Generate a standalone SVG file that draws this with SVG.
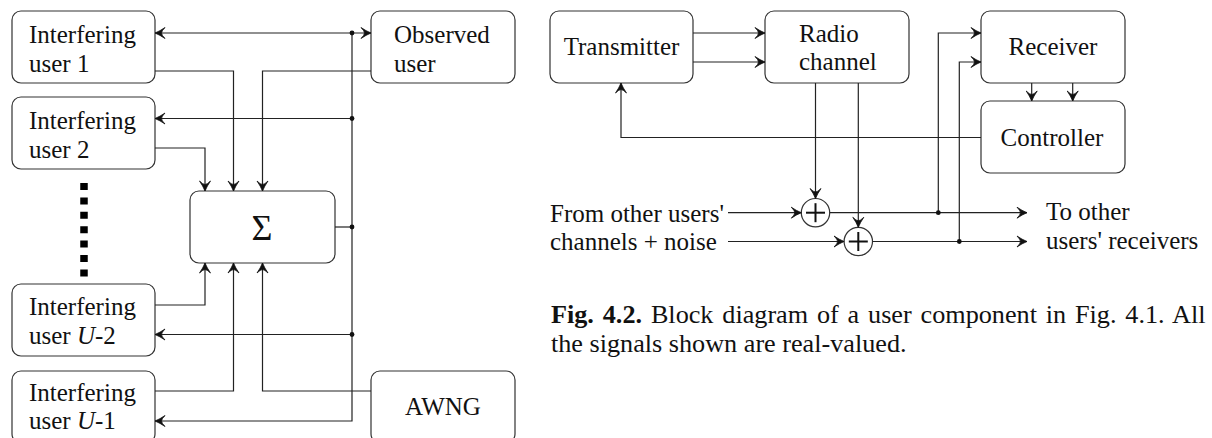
<svg xmlns="http://www.w3.org/2000/svg" width="1212" height="438" viewBox="0 0 1212 438">
  <style>
    .box { fill: #fff; stroke: #333; stroke-width: 1.2; }
    .wire { fill: none; stroke: #222; stroke-width: 1.2; }
    .arr { marker-end: url(#head); }
    .dot { fill: #111; }
    .lbl { font-family: "Liberation Serif", "Times New Roman", serif; font-size: 25px; fill: #111; }
    .mid { text-anchor: middle; }
    .sigma { font-size: 36px; }
    .cap { font-family: "Liberation Serif", "Times New Roman", serif; font-size: 26.2px; fill: #111; }
    .plus { stroke: #111; stroke-width: 2; }
  </style>
  <defs>
    <marker id="head" markerUnits="userSpaceOnUse" markerWidth="14" markerHeight="14" refX="0" refY="0" viewBox="-12 -7 14 14" orient="auto-start-reverse">
      <path d="M0,0 Q-5,-2 -10,-5.5 Q-6.5,-2 -6.5,0 Q-6.5,2 -10,5.5 Q-5,2 0,0 Z" fill="#111" stroke="#111" stroke-width="0.8" stroke-linejoin="round"/>
    </marker>
  </defs>

  <!-- multi-user system: nodes -->
  <g id="iu1">
    <rect class="box" x="12" y="11" width="143" height="72" rx="9"/>
    <text class="lbl" x="29" y="43">Interfering</text>
    <text class="lbl" x="29" y="72">user 1</text>
  </g>
  <g id="iu2">
    <rect class="box" x="12" y="97" width="143" height="72" rx="9"/>
    <text class="lbl" x="29" y="129">Interfering</text>
    <text class="lbl" x="29" y="158">user 2</text>
  </g>
  <g id="ellipsis">
    <line x1="84" y1="183" x2="84" y2="277" stroke="#000" stroke-width="7.5" stroke-dasharray="7 7.4"/>
  </g>
  <g id="iuU2">
    <rect class="box" x="12" y="284" width="143" height="72" rx="9"/>
    <text class="lbl" x="29" y="315">Interfering</text>
    <text class="lbl" x="29" y="344">user <tspan font-style="italic">U</tspan>-2</text>
  </g>
  <g id="iuU1">
    <rect class="box" x="12" y="371" width="143" height="72" rx="9"/>
    <text class="lbl" x="29" y="401">Interfering</text>
    <text class="lbl" x="29" y="429">user <tspan font-style="italic">U</tspan>-1</text>
  </g>
  <g id="observed">
    <rect class="box" x="371" y="11" width="144" height="72" rx="9"/>
    <text class="lbl" x="394" y="43">Observed</text>
    <text class="lbl" x="394" y="72">user</text>
  </g>
  <g id="sum">
    <rect class="box" x="190" y="191" width="145" height="72" rx="9"/>
    <text class="lbl mid sigma" x="262" y="240">Σ</text>
  </g>
  <g id="awgn">
    <rect class="box" x="371" y="371" width="144" height="72" rx="9"/>
    <text class="lbl mid" x="443" y="415">AWNG</text>
  </g>

  <!-- user component: nodes -->
  <g id="transmitter">
    <rect class="box" x="550" y="11" width="143" height="72" rx="9"/>
    <text class="lbl mid" x="621.5" y="55">Transmitter</text>
  </g>
  <g id="radio">
    <rect class="box" x="765" y="11" width="144" height="72" rx="9"/>
    <text class="lbl" x="799" y="42">Radio</text>
    <text class="lbl" x="799" y="70">channel</text>
  </g>
  <g id="receiver">
    <rect class="box" x="981" y="11" width="144" height="72" rx="9"/>
    <text class="lbl mid" x="1053" y="55">Receiver</text>
  </g>
  <g id="controller">
    <rect class="box" x="981" y="101" width="144" height="72" rx="9"/>
    <text class="lbl mid" x="1052" y="146">Controller</text>
  </g>
  <g id="adder1">
    <circle class="box" cx="815.5" cy="212.7" r="14.2"/>
    <line class="plus" x1="806" y1="212.7" x2="825" y2="212.7"/>
    <line class="plus" x1="815.5" y1="203.2" x2="815.5" y2="222.2"/>
  </g>
  <g id="adder2">
    <circle class="box" cx="858.3" cy="241.5" r="14.2"/>
    <line class="plus" x1="848.8" y1="241.5" x2="867.8" y2="241.5"/>
    <line class="plus" x1="858.3" y1="232" x2="858.3" y2="251"/>
  </g>
  <g id="io-labels">
    <text class="lbl" x="550" y="221.5">From other users'</text>
    <text class="lbl" x="550" y="250">channels + noise</text>
    <text class="lbl" x="1046" y="220">To other</text>
    <text class="lbl" x="1046" y="249">users' receivers</text>
  </g>

  <!-- connectors -->
  <g id="connectors">
    <!-- multi-user system -->
    <path class="wire" d="M155,33 H371" marker-start="url(#head)" marker-end="url(#head)"/>
    <path class="wire arr" d="M352,33 V421 H155"/>
    <path class="wire arr" d="M352,118.5 H155"/>
    <path class="wire arr" d="M352,334.5 H155"/>
    <path class="wire" d="M335,227 H352"/>
    <path class="wire arr" d="M155,71 H233.5 V191"/>
    <path class="wire arr" d="M371,71 H262.5 V191"/>
    <path class="wire arr" d="M155,148 H205 V191"/>
    <path class="wire arr" d="M155,305 H205 V263"/>
    <path class="wire arr" d="M155,391 H233.5 V263"/>
    <path class="wire arr" d="M371,391 H262.5 V263"/>
    <circle class="dot" cx="352" cy="33" r="2.4"/>
    <circle class="dot" cx="352" cy="118.5" r="2.4"/>
    <circle class="dot" cx="352" cy="227" r="2.4"/>
    <circle class="dot" cx="352" cy="334.5" r="2.4"/>

    <!-- user component -->
    <path class="wire arr" d="M693,33 H765"/>
    <path class="wire arr" d="M693,62 H765"/>
    <path class="wire arr" d="M981,137.5 H621 V83"/>
    <path class="wire arr" d="M815.5,83 V198.5"/>
    <path class="wire arr" d="M858.3,83 V227.3"/>
    <path class="wire arr" d="M728,212.7 H801.3"/>
    <path class="wire arr" d="M728,241.5 H844.1"/>
    <path class="wire arr" d="M829.7,212.7 H1027"/>
    <path class="wire arr" d="M872.5,241.5 H1027"/>
    <path class="wire arr" d="M938.3,212.7 V33 H981"/>
    <path class="wire arr" d="M959.3,241.5 V62 H981"/>
    <path class="wire arr" d="M1031.7,83 V101"/>
    <path class="wire arr" d="M1072.7,83 V101"/>
    <circle class="dot" cx="938.3" cy="212.7" r="2.4"/>
    <circle class="dot" cx="959.3" cy="241.5" r="2.4"/>
  </g>

  <!-- caption -->
  <g id="caption">
    <text class="cap" x="551" y="323" word-spacing="2.3"><tspan font-weight="bold">Fig. 4.2.</tspan> Block diagram of a user component in Fig. 4.1. All</text>
    <text class="cap" x="551" y="351.7">the signals shown are real-valued.</text>
  </g>
</svg>
